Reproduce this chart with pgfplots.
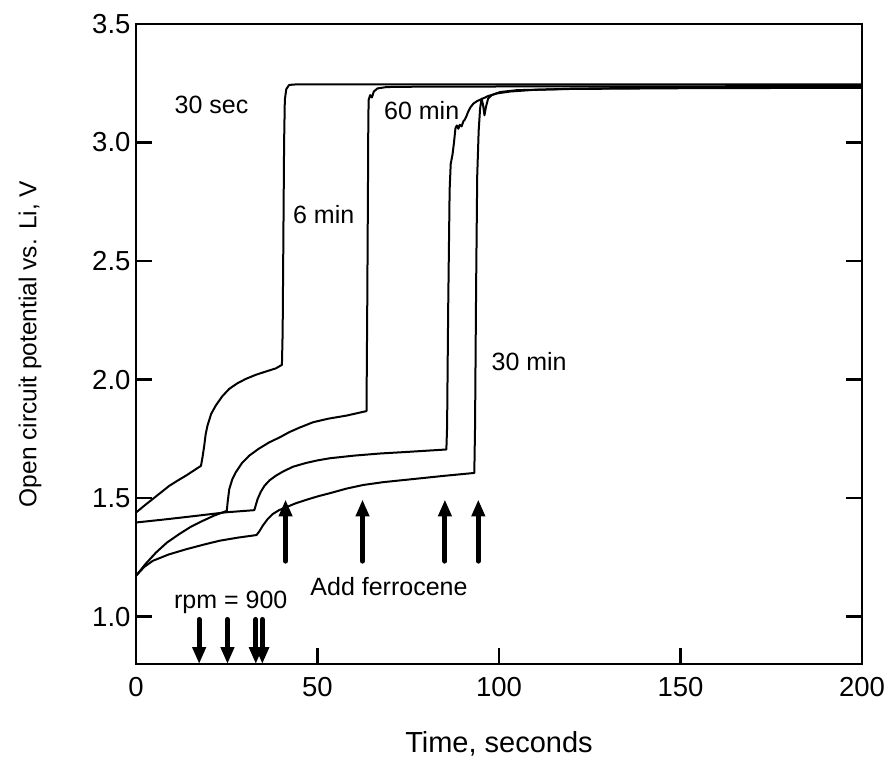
\documentclass[border=0pt]{standalone}
\usepackage{fontspec}
\setmainfont{Liberation Sans}
\usepackage{pgfplots}
\pgfplotsset{compat=1.18}
\usetikzlibrary{arrows.meta}
\begin{document}
\begin{tikzpicture}
\begin{axis}[
  at={(0,0)}, anchor=south west,
  scale only axis, width=726pt, height=640pt,
  xmin=0, xmax=200, ymin=0.8, ymax=3.5,
  xtick={0,50,100,150,200}, ytick={1,1.5,2,2.5,3,3.5},
  xtick pos=bottom, ytick pos=both, tick align=inside,
  major tick length=16pt,
  every tick/.style={black, line width=2.3pt},
  axis line style={line width=2.3pt},
  /pgf/number format/assume math mode=true,
  xticklabel={\pgfmathprintnumber{\tick}},
  yticklabel={\pgfmathprintnumber[fixed,fixed zerofill,precision=1]{\tick}},
  tick label style={font=\fontsize{27.5}{32}\selectfont},
  yticklabel style={xshift=-2pt},
  xticklabel style={yshift=-10pt},
  xlabel={Time, seconds},
  ylabel={Open circuit potential vs. Li, V},
  xlabel style={font=\fontsize{29}{34}\selectfont, at={([yshift=-88pt]axis description cs:0.5,0)}, anchor=base},
  ylabel style={font=\fontsize{24.5}{30}\selectfont, at={([xshift=-106pt]axis description cs:0,0.5)}, anchor=center},
  clip=false,
]
% 30 sec
\addplot[black, line width=2pt, line join=round] coordinates {
(0,1.439) (2.3,1.468) (4.6,1.496) (6.9,1.524) (9.2,1.552) (11.5,1.574) (13.8,1.595) (16,1.617) (17.9,1.636)
(18.3,1.67) (18.8,1.721) (19.2,1.77) (19.7,1.806) (20.7,1.855) (22.0,1.891) (23.8,1.93) (25.7,1.961) (28,1.985)
(30.3,2.003) (33,2.02) (36,2.035) (38.5,2.047) (40.2,2.062) (40.4,2.2) (40.6,2.6) (40.8,3.0) (41.0,3.18)
(41.4,3.225) (42.2,3.243) (44,3.245) (200,3.245)};
% 60 min
\addplot[black, line width=2pt, line join=round] coordinates {
(0,1.397) (8,1.41) (16,1.424) (24.8,1.44) (32.6,1.449) (33.0,1.47) (33.5,1.496) (34.4,1.527) (35.4,1.552)
(36.8,1.575) (38.6,1.595) (40.5,1.612) (43.2,1.632) (46.8,1.648) (50,1.659) (53.4,1.668) (60,1.679) (67.2,1.688)
(75,1.695) (85.5,1.705) (85.7,1.8) (86.0,2.3) (86.4,2.8) (86.7,2.91) (87.2,2.95) (87.6,3.0) (88.0,3.06)
(88.4,3.072) (88.8,3.058) (89.2,3.075) (89.7,3.068) (90.2,3.09) (90.6,3.097) (91.0,3.11) (91.5,3.13) (92.2,3.15)
(93.0,3.165) (94,3.175) (95.2,3.183) (97,3.196) (99.4,3.207) (103,3.215) (109.4,3.222) (120,3.227) (141.6,3.231) (200,3.234)};
% 6 min
\addplot[black, line width=2pt, line join=round] coordinates {
(0,1.172) (2.5,1.22) (5.5,1.270) (8.5,1.312) (11.9,1.348) (15,1.378) (18.4,1.404) (21.5,1.426) (25.0,1.446)
(25.3,1.49) (25.7,1.538) (26.5,1.578) (27.5,1.609) (29.2,1.648) (31.2,1.679) (33.8,1.708) (36.7,1.735) (39.7,1.757)
(42.2,1.778) (45,1.797) (48.8,1.820) (53,1.835) (58,1.848) (63.5,1.867) (63.7,2.3) (63.9,2.8) (64.0,3.1)
(64.1,3.18) (64.5,3.2) (65.0,3.19) (65.5,3.215) (66.5,3.228) (69,3.234) (80,3.236) (200,3.238)};
% 30 min
\addplot[black, line width=2pt, line join=round] coordinates {
(0,1.172) (2.3,1.21) (4.6,1.235) (9,1.262) (13.8,1.284) (18.5,1.303) (23,1.320) (28,1.333) (33.2,1.344)
(34.0,1.36) (34.9,1.383) (36.2,1.41) (37.6,1.432) (39.4,1.449) (41.3,1.461) (44,1.478) (47,1.493) (50,1.507)
(54,1.523) (58,1.54) (62.5,1.555) (68,1.567) (76.2,1.58) (85,1.594) (93.2,1.606) (93.4,1.8) (93.7,2.4)
(94.0,2.86) (94.4,3.05) (94.8,3.145) (95.2,3.185) (95.6,3.16) (96.0,3.115) (96.4,3.15) (97,3.185) (98,3.2)
(100.3,3.213) (105,3.221) (120,3.226) (150,3.229) (200,3.231)};
% Add ferrocene arrows
\addplot[black, line width=5pt, line cap=round, -{Triangle[length=17pt,width=13pt]}] coordinates {(41.2,1.234) (41.2,1.494)};
\addplot[black, line width=5pt, line cap=round, -{Triangle[length=17pt,width=13pt]}] coordinates {(62.4,1.234) (62.4,1.494)};
\addplot[black, line width=5pt, line cap=round, -{Triangle[length=17pt,width=13pt]}] coordinates {(85.1,1.234) (85.1,1.494)};
\addplot[black, line width=5pt, line cap=round, -{Triangle[length=17pt,width=13pt]}] coordinates {(94.3,1.234) (94.3,1.494)};
% rpm arrows
\addplot[black, line width=5pt, line cap=round, -{Triangle[length=17pt,width=13pt]}] coordinates {(17.4,0.988) (17.4,0.80)};
\addplot[black, line width=5pt, line cap=round, -{Triangle[length=17pt,width=13pt]}] coordinates {(25.2,0.988) (25.2,0.80)};
\addplot[black, line width=5pt, line cap=round, -{Triangle[length=17pt,width=13pt]}] coordinates {(33.0,0.988) (33.0,0.80)};
\addplot[black, line width=5pt, line cap=round, -{Triangle[length=17pt,width=13pt]}] coordinates {(34.8,0.988) (34.8,0.80)};
% labels
\node[font=\fontsize{25}{30}\selectfont, anchor=base] at (axis cs:20.8,3.124) {30 sec};
\node[font=\fontsize{25}{30}\selectfont, anchor=base] at (axis cs:51.7,2.659) {6 min};
\node[font=\fontsize{25}{30}\selectfont, anchor=base] at (axis cs:78.7,3.095) {60 min};
\node[font=\fontsize{25}{30}\selectfont, anchor=base] at (axis cs:108.3,2.038) {30 min};
\node[font=\fontsize{25}{30}\selectfont, anchor=base] at (axis cs:69.7,1.087) {Add ferrocene};
\node[font=\fontsize{25}{30}\selectfont, anchor=base] at (axis cs:26.1,1.034) {rpm = 900};
\end{axis}
\pgfresetboundingbox
\useasboundingbox (-136pt,-94pt) rectangle (752pt,664pt);
\end{tikzpicture}
\end{document}
